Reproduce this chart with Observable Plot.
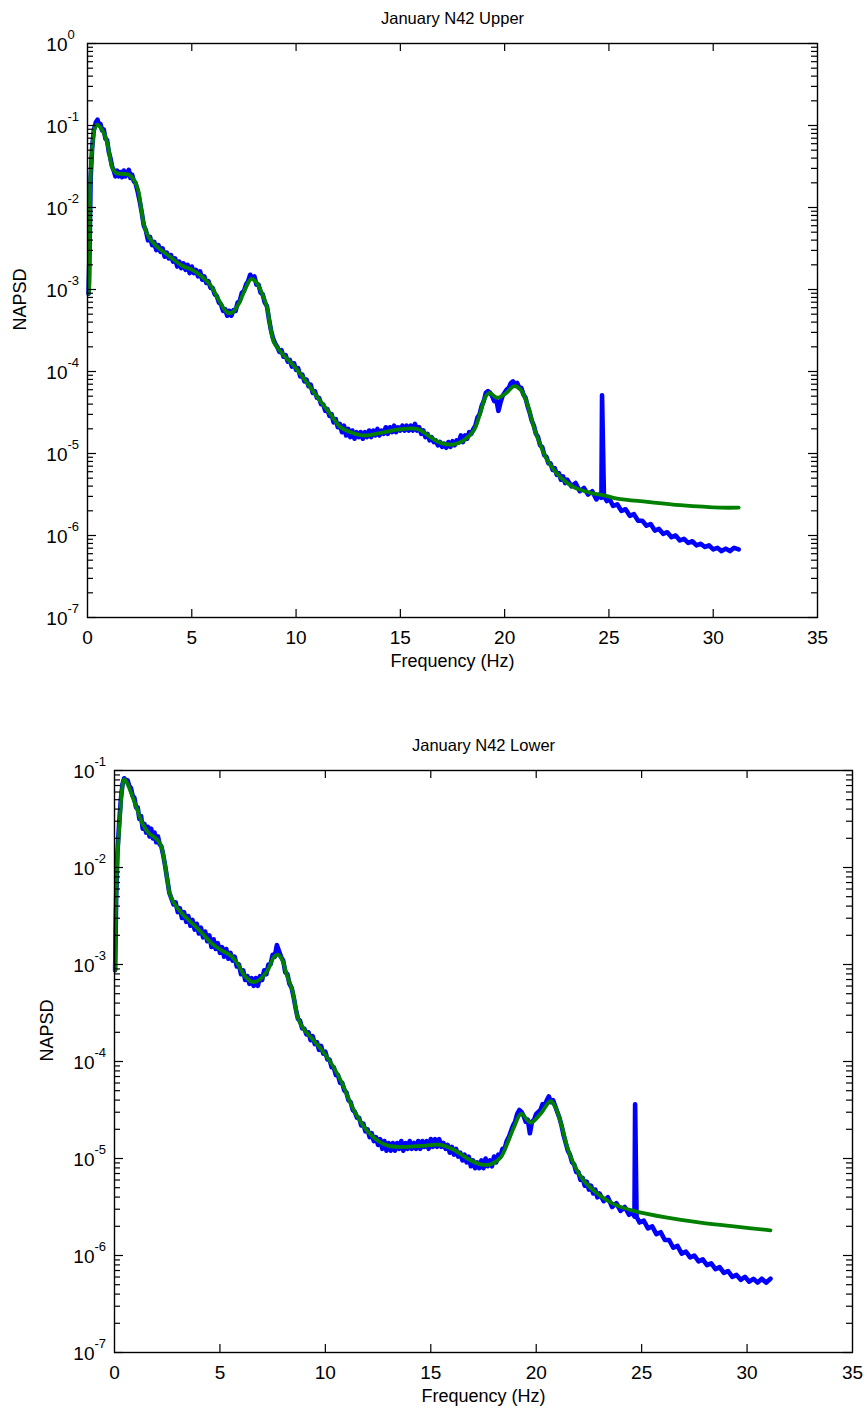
<!DOCTYPE html>
<html><head><meta charset="utf-8">
<script src="https://cdn.jsdelivr.net/npm/d3@7"></script>
<script src="https://cdn.jsdelivr.net/npm/@observablehq/plot@0.6"></script>
<style>body{margin:0;background:#fff}#c svg{display:block}</style>
</head><body><div id="c"></div>
<script>
// ---------- data (frequency Hz, log10 NAPSD) ----------
const xTickValues = [0, 5, 10, 15, 20, 25, 30, 35];
const upperExponents = [0, -1, -2, -3, -4, -5, -6, -7];
const lowerExponents = [-1, -2, -3, -4, -5, -6, -7];
const titles = ["January N42 Upper", "January N42 Lower"];
const xLabel = "Frequency (Hz)";
const yLabel = "NAPSD";

const upperGreen = [[0.05,-3.05],[0.08,-3.0],[0.13,-1.75],[0.22,-1.30],[0.34,-1.04],[0.46,-0.99],[0.67,-1.04],[0.86,-1.14],[1.02,-1.30],[1.18,-1.51],[1.37,-1.58],[1.66,-1.59],[1.98,-1.60],[2.22,-1.66],[2.43,-1.79],[2.59,-2.04],[2.70,-2.20],[2.94,-2.36],[3.34,-2.48],[3.90,-2.59],[4.54,-2.71],[5.02,-2.76],[5.42,-2.83],[5.90,-2.95],[6.30,-3.13],[6.70,-3.28],[6.94,-3.28],[7.26,-3.17],[7.57,-2.99],[7.85,-2.87],[8.09,-2.91],[8.37,-3.05],[8.61,-3.22],[8.77,-3.46],[8.93,-3.64],[9.33,-3.78],[9.89,-3.93],[10.45,-4.11],[11.01,-4.31],[11.65,-4.52],[12.13,-4.68],[12.61,-4.74],[13.25,-4.78],[14.05,-4.75],[14.85,-4.71],[15.80,-4.70],[16.44,-4.80],[16.92,-4.87],[17.56,-4.89],[18.04,-4.84],[18.52,-4.72],[18.84,-4.50],[19.08,-4.31],[19.27,-4.26],[19.64,-4.32],[20.04,-4.27],[20.44,-4.18],[20.76,-4.22],[21.08,-4.39],[21.40,-4.68],[21.72,-4.90],[22.11,-5.11],[22.68,-5.29],[23.31,-5.41],[24.11,-5.48],[24.75,-5.51],[25.39,-5.55],[26.83,-5.59],[28.43,-5.63],[30.35,-5.66],[31.22,-5.66]];

const upperBlue = [[0.05,-3.05],[0.10,-2.50],[0.15,-1.65],[0.22,-1.28],[0.30,-1.06],[0.40,-0.96],[0.48,-0.93],[0.55,-1.00],[0.62,-0.98],[0.70,-1.06],[0.78,-1.05],[0.86,-1.16],[0.94,-1.18],[1.02,-1.32],[1.10,-1.40],[1.18,-1.50],[1.26,-1.55],[1.34,-1.62],[1.42,-1.55],[1.50,-1.62],[1.58,-1.57],[1.66,-1.63],[1.74,-1.55],[1.82,-1.62],[1.90,-1.58],[1.98,-1.54],[2.06,-1.64],[2.14,-1.60],[2.22,-1.68],[2.30,-1.70],[2.40,-1.80],[2.50,-1.92],[2.60,-2.06],[2.70,-2.22],[2.80,-2.28],[2.90,-2.40],[3.00,-2.36],[3.10,-2.46],[3.20,-2.42],[3.30,-2.52],[3.40,-2.46],[3.50,-2.54],[3.60,-2.50],[3.70,-2.60],[3.80,-2.55],[3.90,-2.62],[4.00,-2.58],[4.10,-2.66],[4.20,-2.62],[4.30,-2.72],[4.40,-2.66],[4.50,-2.74],[4.60,-2.68],[4.70,-2.76],[4.80,-2.70],[4.90,-2.80],[5.00,-2.72],[5.10,-2.80],[5.20,-2.76],[5.30,-2.84],[5.40,-2.78],[5.50,-2.88],[5.60,-2.84],[5.70,-2.92],[5.80,-2.90],[5.90,-2.98],[6.00,-2.98],[6.10,-3.06],[6.20,-3.08],[6.30,-3.16],[6.40,-3.18],[6.50,-3.26],[6.60,-3.24],[6.70,-3.32],[6.80,-3.26],[6.90,-3.32],[7.00,-3.25],[7.10,-3.26],[7.20,-3.16],[7.30,-3.14],[7.40,-3.04],[7.50,-3.02],[7.60,-2.94],[7.70,-2.90],[7.80,-2.82],[7.90,-2.86],[8.00,-2.84],[8.10,-2.94],[8.20,-2.94],[8.30,-3.04],[8.40,-3.06],[8.50,-3.16],[8.60,-3.20],[8.70,-3.36],[8.80,-3.50],[8.90,-3.60],[9.00,-3.66],[9.10,-3.70],[9.20,-3.76],[9.30,-3.74],[9.40,-3.82],[9.50,-3.80],[9.60,-3.88],[9.70,-3.86],[9.80,-3.94],[9.90,-3.90],[10.00,-3.98],[10.10,-3.96],[10.20,-4.06],[10.30,-4.04],[10.40,-4.12],[10.50,-4.10],[10.60,-4.18],[10.70,-4.16],[10.80,-4.26],[10.90,-4.24],[11.00,-4.32],[11.10,-4.32],[11.20,-4.40],[11.30,-4.40],[11.40,-4.48],[11.50,-4.46],[11.60,-4.54],[11.70,-4.52],[11.80,-4.62],[11.90,-4.58],[12.00,-4.68],[12.10,-4.64],[12.20,-4.74],[12.30,-4.66],[12.40,-4.78],[12.50,-4.70],[12.60,-4.80],[12.70,-4.72],[12.80,-4.82],[12.90,-4.74],[13.00,-4.80],[13.10,-4.74],[13.20,-4.82],[13.30,-4.74],[13.40,-4.80],[13.50,-4.72],[13.60,-4.80],[13.70,-4.72],[13.80,-4.78],[13.90,-4.70],[14.00,-4.78],[14.10,-4.72],[14.20,-4.76],[14.30,-4.68],[14.40,-4.76],[14.50,-4.68],[14.60,-4.74],[14.70,-4.66],[14.80,-4.74],[14.90,-4.68],[15.00,-4.72],[15.10,-4.66],[15.20,-4.72],[15.30,-4.66],[15.40,-4.72],[15.50,-4.66],[15.60,-4.72],[15.70,-4.64],[15.80,-4.72],[15.90,-4.68],[16.00,-4.76],[16.10,-4.72],[16.20,-4.80],[16.30,-4.76],[16.40,-4.84],[16.50,-4.80],[16.60,-4.86],[16.70,-4.84],[16.80,-4.90],[16.90,-4.86],[17.00,-4.92],[17.10,-4.88],[17.20,-4.93],[17.30,-4.86],[17.40,-4.92],[17.50,-4.85],[17.60,-4.90],[17.70,-4.84],[17.80,-4.86],[17.90,-4.78],[18.00,-4.86],[18.10,-4.78],[18.20,-4.82],[18.30,-4.74],[18.40,-4.76],[18.50,-4.70],[18.60,-4.66],[18.70,-4.56],[18.80,-4.52],[18.90,-4.42],[19.00,-4.36],[19.10,-4.26],[19.20,-4.24],[19.30,-4.26],[19.40,-4.30],[19.50,-4.36],[19.60,-4.34],[19.70,-4.48],[19.80,-4.38],[19.90,-4.30],[20.00,-4.26],[20.10,-4.22],[20.20,-4.20],[20.30,-4.14],[20.40,-4.12],[20.50,-4.16],[20.60,-4.14],[20.70,-4.20],[20.80,-4.20],[20.90,-4.28],[21.00,-4.32],[21.10,-4.42],[21.20,-4.50],[21.30,-4.60],[21.40,-4.66],[21.50,-4.76],[21.60,-4.80],[21.70,-4.90],[21.80,-4.92],[21.90,-5.02],[22.00,-5.04],[22.10,-5.12],[22.20,-5.12],[22.30,-5.20],[22.40,-5.18],[22.50,-5.26],[22.60,-5.24],[22.70,-5.32],[22.80,-5.28],[22.90,-5.36],[23.00,-5.32],[23.20,-5.40],[23.40,-5.36],[23.60,-5.46],[23.80,-5.42],[24.00,-5.50],[24.20,-5.46],[24.40,-5.56],[24.55,-5.50],[24.64,-5.54],[24.67,-4.29],[24.76,-5.52],[24.90,-5.58],[25.00,-5.54],[25.20,-5.64],[25.40,-5.62],[25.60,-5.70],[25.80,-5.68],[26.00,-5.76],[26.20,-5.74],[26.40,-5.82],[26.60,-5.82],[26.80,-5.88],[27.00,-5.86],[27.20,-5.94],[27.40,-5.92],[27.60,-5.98],[27.80,-5.96],[28.00,-6.02],[28.20,-6.00],[28.40,-6.06],[28.60,-6.04],[28.80,-6.09],[29.00,-6.07],[29.20,-6.12],[29.40,-6.10],[29.60,-6.14],[29.80,-6.12],[30.00,-6.17],[30.20,-6.15],[30.40,-6.19],[30.60,-6.16],[30.80,-6.19],[31.00,-6.15],[31.22,-6.17]];

const lowerGreen = [[0.03,-3.06],[0.06,-2.48],[0.14,-1.89],[0.25,-1.52],[0.35,-1.21],[0.46,-1.09],[0.62,-1.14],[0.85,-1.27],[1.09,-1.41],[1.33,-1.55],[1.64,-1.65],[1.96,-1.70],[2.20,-1.77],[2.36,-1.93],[2.51,-2.13],[2.62,-2.27],[2.83,-2.37],[3.22,-2.48],[3.70,-2.58],[4.17,-2.68],[4.65,-2.79],[5.12,-2.86],[5.52,-2.91],[5.83,-2.99],[6.15,-3.11],[6.54,-3.18],[6.86,-3.16],[7.26,-3.06],[7.57,-2.92],[7.76,-2.90],[7.97,-2.96],[8.16,-3.10],[8.44,-3.27],[8.68,-3.54],[8.92,-3.65],[9.39,-3.77],[9.86,-3.89],[10.34,-4.04],[10.81,-4.23],[11.13,-4.40],[11.50,-4.56],[12.00,-4.72],[12.50,-4.82],[13.00,-4.87],[13.56,-4.88],[14.51,-4.87],[15.46,-4.86],[16.09,-4.91],[16.73,-5.00],[17.36,-5.06],[17.83,-5.06],[18.31,-4.99],[18.62,-4.85],[18.94,-4.68],[19.29,-4.54],[19.73,-4.63],[20.20,-4.54],[20.68,-4.41],[20.91,-4.47],[21.23,-4.68],[21.47,-4.88],[21.79,-5.06],[22.26,-5.23],[22.89,-5.36],[23.68,-5.47],[24.63,-5.54],[26.21,-5.61],[27.79,-5.66],[29.37,-5.70],[31.11,-5.74]];

const lowerBlue = [[0.03,-3.06],[0.08,-2.30],[0.14,-1.85],[0.22,-1.55],[0.30,-1.30],[0.38,-1.14],[0.46,-1.08],[0.54,-1.10],[0.62,-1.10],[0.70,-1.16],[0.78,-1.18],[0.86,-1.26],[0.94,-1.28],[1.02,-1.38],[1.10,-1.38],[1.18,-1.50],[1.26,-1.47],[1.34,-1.60],[1.42,-1.55],[1.50,-1.64],[1.58,-1.58],[1.66,-1.68],[1.74,-1.60],[1.82,-1.70],[1.90,-1.64],[1.98,-1.74],[2.06,-1.68],[2.14,-1.76],[2.22,-1.78],[2.30,-1.86],[2.40,-1.98],[2.50,-2.12],[2.60,-2.26],[2.70,-2.32],[2.80,-2.38],[2.90,-2.36],[3.00,-2.46],[3.10,-2.42],[3.20,-2.52],[3.30,-2.46],[3.40,-2.56],[3.50,-2.50],[3.60,-2.60],[3.70,-2.54],[3.80,-2.64],[3.90,-2.58],[4.00,-2.68],[4.10,-2.62],[4.20,-2.72],[4.30,-2.66],[4.40,-2.76],[4.50,-2.70],[4.60,-2.82],[4.70,-2.74],[4.80,-2.84],[4.90,-2.78],[5.00,-2.88],[5.10,-2.82],[5.20,-2.92],[5.30,-2.84],[5.40,-2.94],[5.50,-2.88],[5.60,-2.96],[5.70,-2.92],[5.80,-3.02],[5.90,-3.00],[6.00,-3.10],[6.10,-3.06],[6.20,-3.16],[6.30,-3.12],[6.40,-3.20],[6.50,-3.14],[6.60,-3.22],[6.70,-3.14],[6.80,-3.22],[6.90,-3.12],[7.00,-3.16],[7.10,-3.06],[7.20,-3.10],[7.30,-3.00],[7.40,-3.00],[7.50,-2.90],[7.60,-2.92],[7.70,-2.80],[7.80,-2.86],[7.90,-2.92],[8.00,-2.96],[8.10,-3.08],[8.20,-3.10],[8.30,-3.20],[8.40,-3.24],[8.50,-3.34],[8.60,-3.46],[8.70,-3.56],[8.80,-3.58],[8.90,-3.66],[9.00,-3.66],[9.10,-3.72],[9.20,-3.70],[9.30,-3.78],[9.40,-3.74],[9.50,-3.82],[9.60,-3.80],[9.70,-3.88],[9.80,-3.84],[9.90,-3.92],[10.00,-3.90],[10.10,-3.98],[10.20,-3.98],[10.30,-4.06],[10.40,-4.06],[10.50,-4.14],[10.60,-4.14],[10.70,-4.22],[10.80,-4.22],[10.90,-4.30],[11.00,-4.32],[11.10,-4.40],[11.20,-4.42],[11.30,-4.50],[11.40,-4.52],[11.50,-4.58],[11.60,-4.58],[11.70,-4.66],[11.80,-4.64],[11.90,-4.72],[12.00,-4.70],[12.10,-4.78],[12.20,-4.74],[12.30,-4.82],[12.40,-4.78],[12.50,-4.86],[12.60,-4.80],[12.70,-4.90],[12.80,-4.82],[12.90,-4.92],[13.00,-4.84],[13.10,-4.92],[13.20,-4.84],[13.30,-4.92],[13.40,-4.84],[13.50,-4.90],[13.60,-4.82],[13.70,-4.92],[13.80,-4.84],[13.90,-4.90],[14.00,-4.82],[14.10,-4.90],[14.20,-4.84],[14.30,-4.90],[14.40,-4.82],[14.50,-4.90],[14.60,-4.82],[14.70,-4.88],[14.80,-4.82],[14.90,-4.90],[15.00,-4.80],[15.10,-4.88],[15.20,-4.80],[15.30,-4.88],[15.40,-4.80],[15.50,-4.88],[15.60,-4.84],[15.70,-4.90],[15.80,-4.86],[15.90,-4.94],[16.00,-4.88],[16.10,-4.96],[16.20,-4.90],[16.30,-4.98],[16.40,-4.94],[16.50,-5.02],[16.60,-4.96],[16.70,-5.04],[16.80,-4.98],[16.90,-5.08],[17.00,-5.02],[17.10,-5.10],[17.20,-5.04],[17.30,-5.10],[17.40,-5.02],[17.50,-5.10],[17.60,-5.00],[17.70,-5.08],[17.80,-5.02],[17.90,-5.08],[18.00,-4.98],[18.10,-5.04],[18.20,-4.96],[18.30,-4.98],[18.40,-4.90],[18.50,-4.90],[18.60,-4.82],[18.70,-4.78],[18.80,-4.72],[18.90,-4.66],[19.00,-4.62],[19.10,-4.54],[19.20,-4.50],[19.30,-4.52],[19.40,-4.56],[19.50,-4.62],[19.60,-4.60],[19.70,-4.74],[19.80,-4.62],[19.90,-4.60],[20.00,-4.54],[20.10,-4.52],[20.20,-4.50],[20.30,-4.44],[20.40,-4.46],[20.50,-4.40],[20.60,-4.36],[20.70,-4.42],[20.80,-4.40],[20.90,-4.46],[21.00,-4.52],[21.10,-4.58],[21.20,-4.66],[21.30,-4.76],[21.40,-4.84],[21.50,-4.92],[21.60,-4.96],[21.70,-5.04],[21.80,-5.06],[21.90,-5.14],[22.00,-5.14],[22.10,-5.22],[22.20,-5.20],[22.30,-5.28],[22.40,-5.24],[22.50,-5.32],[22.60,-5.28],[22.70,-5.36],[22.80,-5.32],[22.90,-5.40],[23.00,-5.36],[23.20,-5.44],[23.40,-5.40],[23.60,-5.50],[23.80,-5.46],[24.00,-5.54],[24.20,-5.50],[24.40,-5.58],[24.58,-5.56],[24.66,-5.60],[24.69,-4.44],[24.76,-5.60],[24.90,-5.66],[25.10,-5.64],[25.30,-5.72],[25.50,-5.70],[25.70,-5.78],[25.90,-5.76],[26.10,-5.84],[26.30,-5.84],[26.50,-5.92],[26.70,-5.90],[26.90,-5.98],[27.10,-5.96],[27.30,-6.02],[27.50,-6.00],[27.70,-6.06],[27.90,-6.04],[28.10,-6.10],[28.30,-6.08],[28.50,-6.14],[28.70,-6.12],[28.90,-6.18],[29.10,-6.16],[29.30,-6.22],[29.50,-6.20],[29.70,-6.25],[29.90,-6.22],[30.10,-6.27],[30.30,-6.24],[30.50,-6.28],[30.70,-6.24],[30.90,-6.28],[31.11,-6.24]];

// ---------- drawing ----------
const FONT = "'Liberation Sans', Arial, Helvetica, sans-serif";
const toRows = (pairs) => pairs.map(([f, e]) => ({f, v: Math.pow(10, e)}));

function panel({title, blue, green, exps, width, height, ml, mr, mt, mb}) {
  const fw = width - ml - mr, fh = height - mt - mb;
  const expMax = d3.max(exps), expMin = d3.min(exps);
  const major = exps.map(e => Math.pow(10, e));
  const minor = [];
  for (let e = expMin; e < expMax; e++) for (let m = 2; m <= 9; m++) minor.push(m * Math.pow(10, e));
  const xInner = xTickValues.slice(1, -1);
  return Plot.plot({
    width, height,
    marginLeft: ml, marginRight: mr, marginTop: mt, marginBottom: mb,
    style: {fontFamily: FONT, background: "white", color: "black", overflow: "visible"},
    x: {domain: [0, 35], axis: null},
    y: {type: "log", domain: [Math.pow(10, expMin), Math.pow(10, expMax)], axis: null},
    marks: [
      Plot.line(toRows(blue), {x: "f", y: "v", stroke: "#0000ff", strokeWidth: 4.6, strokeLinejoin: "round", strokeLinecap: "round"}),
      Plot.line(toRows(green), {x: "f", y: "v", stroke: "#008000", strokeWidth: 3.8, curve: "catmull-rom", strokeLinejoin: "round"}),
      Plot.frame({stroke: "black", strokeWidth: 1.4}),
      // inward ticks: left / right (major & minor)
      Plot.tickY(major, {y: d => d, insetRight: fw - 9, stroke: "black", strokeWidth: 1.2}),
      Plot.tickY(major, {y: d => d, insetLeft: fw - 9, stroke: "black", strokeWidth: 1.2}),
      Plot.tickY(minor, {y: d => d, insetRight: fw - 6, stroke: "black", strokeWidth: 1.2}),
      Plot.tickY(minor, {y: d => d, insetLeft: fw - 6, stroke: "black", strokeWidth: 1.2}),
      // inward ticks: bottom / top
      Plot.tickX(xInner, {x: d => d, insetTop: fh - 8, stroke: "black", strokeWidth: 1.2}),
      Plot.tickX(xInner, {x: d => d, insetBottom: fh - 8, stroke: "black", strokeWidth: 1.2}),
      // x tick labels
      Plot.text(xTickValues, {x: d => d, text: d => String(d), frameAnchor: "bottom", dy: 20, lineAnchor: "middle", fontSize: 19, fill: "black"}),
      // y tick labels: base "10" and raised exponent
      Plot.text(exps, {y: e => Math.pow(10, e), text: () => "10", frameAnchor: "left", dx: -20, dy: 1, textAnchor: "end", lineAnchor: "middle", fontSize: 19, fill: "black"}),
      Plot.text(exps, {y: e => Math.pow(10, e), text: e => String(e), frameAnchor: "left", dx: -20, dy: -9, textAnchor: "start", lineAnchor: "middle", fontSize: 13, fill: "black"}),
      // title and axis labels
      Plot.text([title], {frameAnchor: "top", dy: -25, lineAnchor: "middle", fontSize: 16.5, fill: "black"}),
      Plot.text([xLabel], {frameAnchor: "bottom", dy: 44, lineAnchor: "middle", fontSize: 18, fill: "black"}),
      Plot.text([yLabel], {frameAnchor: "left", dx: -67, rotate: -90, lineAnchor: "middle", fontSize: 18, fill: "black"})
    ]
  });
}

const c = document.getElementById("c");
c.appendChild(panel({title: titles[0], blue: upperBlue, green: upperGreen, exps: upperExponents,
  width: 867, height: 708, ml: 87, mr: 50, mt: 43, mb: 91}));
c.appendChild(panel({title: titles[1], blue: lowerBlue, green: lowerGreen, exps: lowerExponents,
  width: 867, height: 708, ml: 114, mr: 15, mt: 62, mb: 64}));
</script>
</body></html>
